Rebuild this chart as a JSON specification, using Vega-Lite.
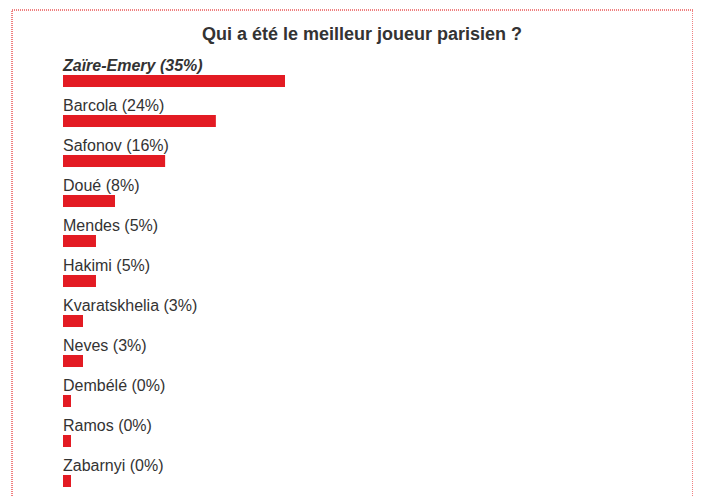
{
  "$schema": "https://vega.github.io/schema/vega-lite/v6.json",
  "autosize": "none",
  "padding": {"left": 11.5, "top": 9.5, "right": 0, "bottom": 0},
  "width": 681,
  "height": 496,
  "background": "white",
  "title": {
    "text": "Qui a été le meilleur joueur parisien ?",
    "font": "Liberation Sans",
    "fontSize": 18,
    "fontWeight": "bold",
    "color": "#333333",
    "anchor": "middle",
    "baseline": "alphabetic",
    "offset": -48,
    "dx": 10
  },
  "data": {
    "values": [
      {"joueur": "Zaïre-Emery", "label": "Zaïre-Emery (35%)", "pct": 35, "top": true},
      {"joueur": "Barcola", "label": "Barcola (24%)", "pct": 24.1, "top": false},
      {"joueur": "Safonov", "label": "Safonov (16%)", "pct": 16.1, "top": false},
      {"joueur": "Doué", "label": "Doué (8%)", "pct": 8.2, "top": false},
      {"joueur": "Mendes", "label": "Mendes (5%)", "pct": 5.2, "top": false},
      {"joueur": "Hakimi", "label": "Hakimi (5%)", "pct": 5.2, "top": false},
      {"joueur": "Kvaratskhelia", "label": "Kvaratskhelia (3%)", "pct": 3.15, "top": false},
      {"joueur": "Neves", "label": "Neves (3%)", "pct": 3.15, "top": false},
      {"joueur": "Dembélé", "label": "Dembélé (0%)", "pct": 0, "top": false},
      {"joueur": "Ramos", "label": "Ramos (0%)", "pct": 0, "top": false},
      {"joueur": "Zabarnyi", "label": "Zabarnyi (0%)", "pct": 0, "top": false}
    ]
  },
  "encoding": {
    "y": {
      "field": "joueur",
      "type": "nominal",
      "sort": null,
      "axis": null,
      "scale": {"type": "band", "range": [41.5, 481.5], "paddingInner": 0, "paddingOuter": 0}
    }
  },
  "layer": [
    {
      "mark": {"type": "bar", "color": "#e31b23", "height": 12, "yOffset": 10, "x2Offset": 8},
      "encoding": {
        "x": {"datum": 0, "type": "quantitative", "scale": {"domain": [0, 35], "range": [51.5, 273.5]}, "axis": null},
        "x2": {"datum": 0}
      }
    },
    {
      "mark": {"type": "bar", "color": "#e31b23", "height": 12, "yOffset": 10},
      "encoding": {
        "x": {"field": "pct", "type": "quantitative", "axis": null},
        "x2": {"datum": 0}
      }
    },
    {
      "transform": [{"filter": "!datum.top"}],
      "mark": {"type": "text", "align": "left", "baseline": "alphabetic", "font": "Liberation Sans", "fontSize": 16, "color": "#333333"},
      "encoding": {
        "x": {"datum": 0, "type": "quantitative"},
        "text": {"field": "label"}
      }
    },
    {
      "transform": [{"filter": "datum.top"}],
      "mark": {"type": "text", "align": "left", "baseline": "alphabetic", "font": "Liberation Sans", "fontSize": 16, "fontWeight": "bold", "fontStyle": "italic", "color": "#333333"},
      "encoding": {
        "x": {"datum": 0, "type": "quantitative"},
        "text": {"field": "label"}
      }
    }
  ],
  "config": {
    "view": {"stroke": "#e00000", "strokeWidth": 1, "strokeDash": [1, 1]}
  }
}
